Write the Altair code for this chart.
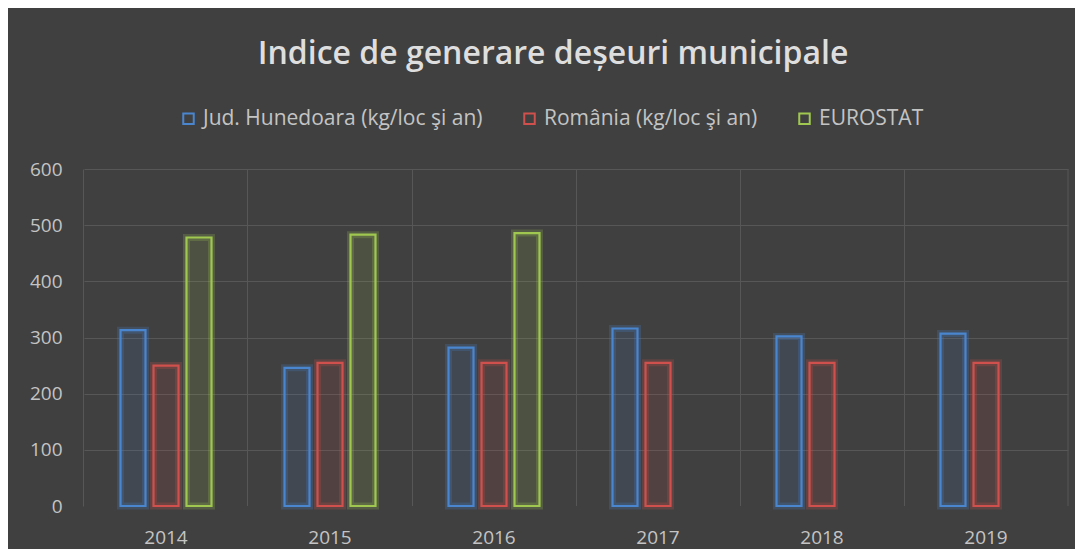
import altair as alt
import pandas as pd

years = ["2014", "2015", "2016", "2017", "2018", "2019"]
series = ["Jud. Hunedoara (kg/loc şi an)", "România (kg/loc şi an)", "EUROSTAT"]
hunedoara = [313, 246, 282, 316, 302, 307]
romania = [250, 255, 255, 255, 255, 255]
eurostat = [478, 483, 486, None, None, None]
colors = ["#4a86d0", "#d0504d", "#a0c850"]

rows = []
for i, y in enumerate(years):
    for s, vals in zip(series, [hunedoara, romania, eurostat]):
        rows.append({"year": y, "series": s, "value": vals[i]})
df = pd.DataFrame(rows)

W, H = 984, 337
FONT = "Open Sans"
PI = 0.244

xenc = alt.X("year:N", sort=years,
             scale=alt.Scale(paddingInner=PI, paddingOuter=PI / 2),
             axis=alt.Axis(title=None, labelAngle=0, domain=False, ticks=False, tickSize=0,
                           labelPadding=22, labelFontSize=19, labelColor="#c4c4c4",
                           labelFont=FONT, grid=True, bandPosition=-(PI / 2) / (1 - PI),
                           gridColor="#575757", gridWidth=1))
yenc = alt.Y("value:Q", scale=alt.Scale(domain=[0, 600]),
             axis=alt.Axis(title=None, values=[0, 100, 200, 300, 400, 500, 600],
                           domain=False, ticks=False, tickSize=0, labelPadding=22,
                           labelFontSize=19, labelColor="#c4c4c4", labelFont=FONT,
                           gridColor={"condition": {"test": "datum.value === 0", "value": "#404040"},
                                      "value": "#575757"},
                           gridWidth=1))
xoff = alt.XOffset("series:N", sort=series,
                   scale=alt.Scale(domain=series, paddingInner=0.2424, paddingOuter=0.5))

base = alt.Chart(df)

glow = base.mark_bar(filled=True, fillOpacity=0.13, strokeOpacity=0.22, strokeWidth=7).encode(
    x=xenc, y=yenc, xOffset=xoff,
    fill=alt.Fill("series:N", scale=alt.Scale(domain=series, range=colors), legend=None),
    stroke=alt.Stroke("series:N", scale=alt.Scale(domain=series, range=colors), legend=None),
)

main = base.mark_bar(filled=False, strokeWidth=2.2).encode(
    x=xenc, y=yenc, xOffset=xoff,
    color=alt.Color("series:N", scale=alt.Scale(domain=series, range=colors),
                    legend=alt.Legend(title=None, orient="none", direction="horizontal",
                                      legendX=94, legendY=-61,
                                      symbolType="square", symbolSize=110,
                                      symbolStrokeWidth=2, labelFontSize=21,
                                      labelColor="#c4c4c4", labelFont=FONT, labelLimit=0,
                                      labelOffset=4, columnPadding=36)),
)

edge = alt.Chart(pd.DataFrame({"a": [0]})).mark_rule(color="#575757", strokeWidth=1).encode(
    x=alt.value(W), y=alt.value(0), y2=alt.value(H)
)

chart = alt.layer(edge, glow, main).resolve_scale(
    stroke="independent", fill="independent", color="independent"
).resolve_legend(
    stroke="independent", fill="independent", color="independent"
).properties(
    width=W, height=H,
    autosize=alt.AutoSizeParams(type="none"),
    padding={"left": 76, "top": 161, "right": 7, "bottom": 43},
    title=alt.Title("Indice de generare deșeuri municipale", fontSize=32, fontWeight=600,
                    color="#dedede", font=FONT, anchor="middle", dx=-23, offset=37),
).configure(background="#404040").configure_view(stroke=None)

chart.save("out.html", embed_options={"renderer": "svg", "actions": False})
